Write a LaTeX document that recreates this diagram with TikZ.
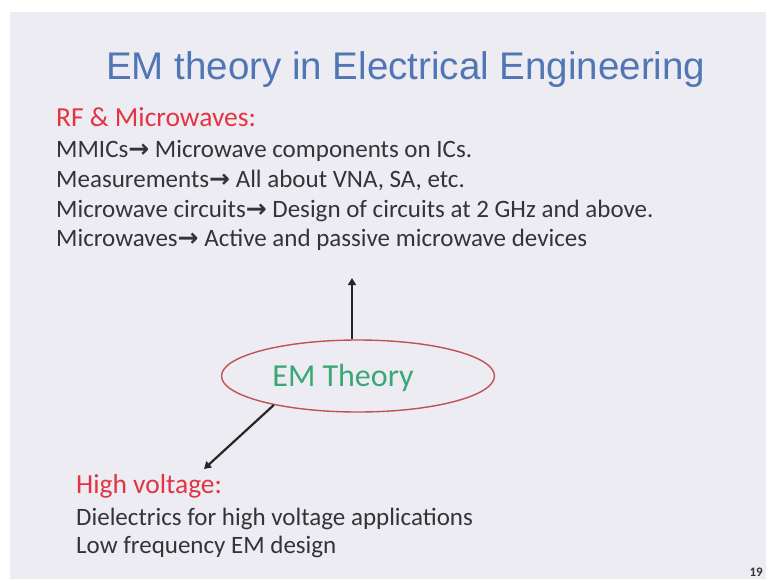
\documentclass[tikz,border=0pt]{standalone}
\usepackage{fontspec}
\setmainfont{Carlito}
\newfontfamily\titlefont{Liberation Sans}
\newfontfamily\symfont{DejaVu Sans}
\usetikzlibrary{shapes.geometric,arrows.meta}
\definecolor{slidebg}{RGB}{237,236,242}
\definecolor{titleblue}{RGB}{80,118,182}
\definecolor{headred}{RGB}{226,52,68}
\definecolor{bodygray}{RGB}{52,52,56}
\definecolor{emgreen}{RGB}{58,168,118}
\definecolor{ellred}{RGB}{192,82,84}
\newcommand{\ar}{{\symfont\bfseries →}}
\tikzset{
  x=1pt,y=-1pt,
  titletext/.style={font=\titlefont\fontsize{38.5}{44}\selectfont,text=titleblue,anchor=base west,inner sep=0},
  headtext/.style={font=\fontsize{27.5}{32}\selectfont,text=headred,anchor=base west,inner sep=0},
  bodytext/.style={font=\fontsize{25}{30}\selectfont,text=bodygray,anchor=base west,inner sep=0},
  emtext/.style={font=\fontsize{32}{38}\selectfont,text=emgreen,inner sep=0},
  ellbox/.style={ellipse,draw=ellred,line width=1.4pt,minimum width=273,minimum height=72,inner sep=0},
  conn/.style={draw=black!85,line width=2.2pt,-{Triangle[length=7pt,width=8pt]}},
  pagetext/.style={font=\fontsize{13}{16}\selectfont\bfseries,text=bodygray,anchor=base east,inner sep=0}
}
\begin{document}
\begin{tikzpicture}
\useasboundingbox (0,0) rectangle (766,579);
\clip (0,0) rectangle (766,579);
\fill[white] (0,0) rectangle (766,579);
\fill[slidebg] (10,12) rectangle (766,579);
\node[titletext] (title) at (106,79.5) {EM theory in Electrical Engineering};
\node[headtext] (rf) at (56,126) {RF \& Microwaves:};
\node[bodytext] (l1) at (56,157) {MMICs\ar\ Microwave components on ICs.};
\node[bodytext] (l2) at (56,187.5) {Measurements\ar\ All about VNA, SA, etc.};
\node[bodytext] (l3) at (56,217) {Microwave circuits\ar\ Design of circuits at 2 GHz and above.};
\node[bodytext] (l4) at (56,246.5) {Microwaves\ar\ Active and passive microwave devices};
\node[ellbox] (em) at (358,376) {};
\node[emtext] (emt) at (343,378) {EM Theory};
\coordinate (upend) at (352,278);
\coordinate (dlend) at (204,469);
\draw[conn] (em.north -| upend) -- (upend);
\draw[conn] (em.199) -- (dlend);
\node[headtext] (hv) at (76,493) {High voltage:};
\node[bodytext] (h1) at (76,525) {Dielectrics for high voltage applications};
\node[bodytext] (h2) at (76,553.5) {Low frequency EM design};
\node[pagetext] (pg) at (763,576) {19};
\end{tikzpicture}
\end{document}
